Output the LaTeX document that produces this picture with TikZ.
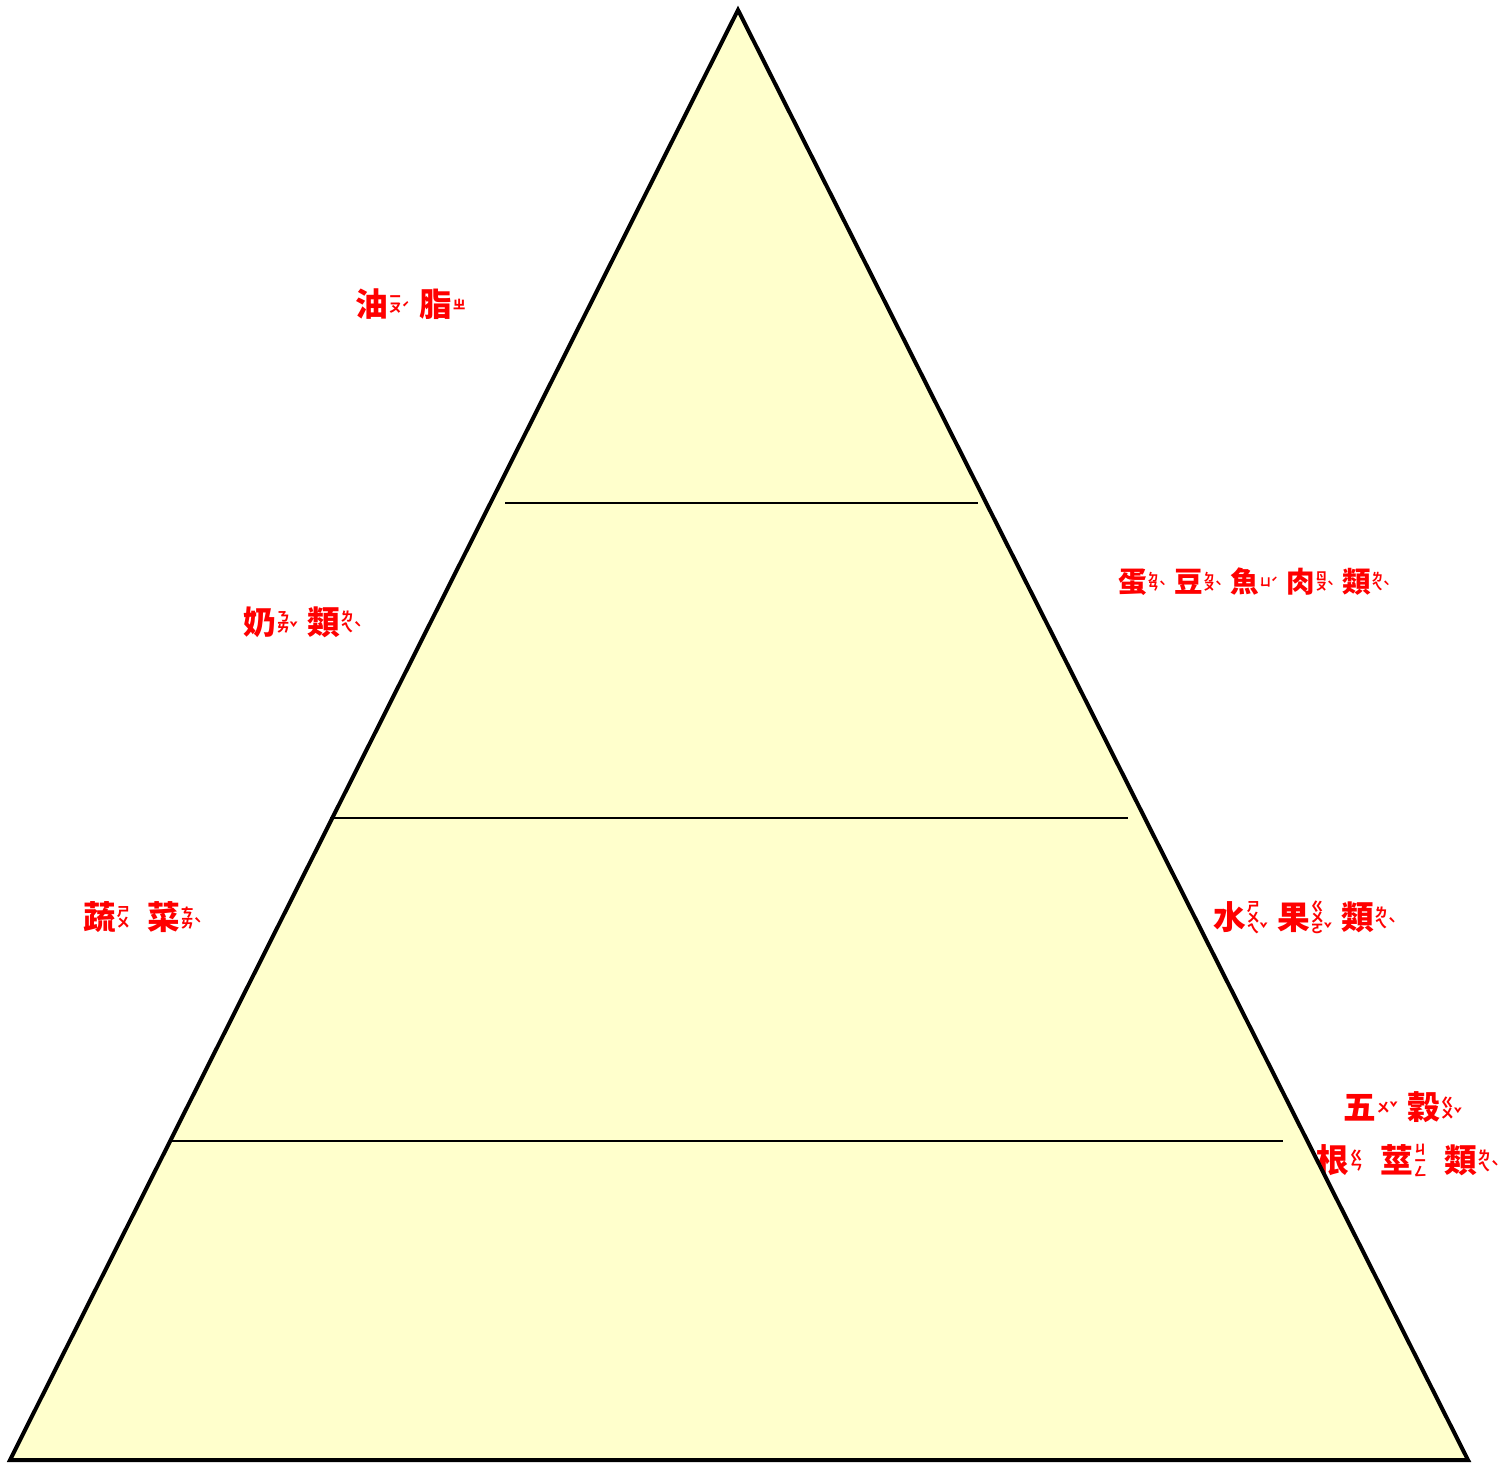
\documentclass[tikz,border=0pt]{standalone}
\usepackage{fontspec}
\usepackage{graphicx}
\newfontfamily\cjk{Noto Sans CJK TC}
\definecolor{pyrfill}{HTML}{FFFFCC}
\newcommand\zyfont{\fontsize{9.6pt}{8.2pt}\selectfont}
\newcommand\tn[1]{\rlap{\kern0.2pt#1}}
\newcommand\zy[2]{#1\makebox[0.96em][l]{\kern0.03em\raisebox{0.11em}{$\vcenter{\zyfont\lineskiplimit=-20pt\lineskip=0pt\halign{\hfil##\hfil\cr#2\crcr}}$}}}
\tikzset{
  lbl/.style={inner sep=0pt, anchor=base west, text=red, font=\cjk\bfseries\fontsize{24.5pt}{28pt}\selectfont},
  edge/.style={line width=3pt, draw=black, fill=pyrfill, line join=miter},
  tier/.style={line width=1.9pt, draw=black}
}
\begin{document}
\begin{tikzpicture}[x=0.75pt, y=-0.75pt]
\useasboundingbox (0,0) rectangle (1503,1463);
% labels
\node[lbl] (fat) at (355,316.5) {\zy{油}{ㄧ\cr ㄡ\tn{ˊ}}\zy{脂}{ㄓ}};
\node[lbl] (milk) at (243,634) {\zy{奶}{ㄋ\cr ㄞ\tn{ˇ}}\zy{類}{ㄌ\cr ㄟ\tn{ˋ}}};
\node[lbl] (meat) at (1118,592) {\scalebox{0.875}{\zy{蛋}{ㄉ\cr ㄢ\tn{ˋ}}\zy{豆}{ㄉ\cr ㄡ\tn{ˋ}}\zy{魚}{ㄩ\tn{ˊ}}\zy{肉}{ㄖ\cr ㄡ\tn{ˋ}}\zy{類}{ㄌ\cr ㄟ\tn{ˋ}}}};
\node[lbl] (veg) at (83,929.5) {\zy{蔬}{ㄕ\cr ㄨ}\zy{菜}{ㄘ\cr ㄞ\tn{ˋ}}};
\node[lbl] (fruit) at (1213,929.5) {\zy{水}{ㄕ\cr ㄨ\cr ㄟ\tn{ˇ}}\zy{果}{ㄍ\cr ㄨ\cr ㄛ\tn{ˇ}}\zy{類}{ㄌ\cr ㄟ\tn{ˋ}}};
\node[lbl] (grain) at (1343,1119.5) {\zy{五}{ㄨ\tn{ˇ}}\zy{穀}{ㄍ\cr ㄨ\tn{ˇ}}};
\node[lbl] (root) at (1316,1172.5) {\zy{根}{ㄍ\cr ㄣ}\zy{莖}{ㄐ\cr ㄧ\cr ㄥ}\zy{類}{ㄌ\cr ㄟ\tn{ˋ}}};
% pyramid
\coordinate (apex) at (738,10);
\coordinate (bl) at (10,1460);
\coordinate (br) at (1468,1460);
\draw[edge] (apex) -- (bl) -- (br) -- cycle;
\coordinate (t1l) at (505,503);
\coordinate (t1r) at (978,503);
\coordinate (t2l) at (330,818);
\coordinate (t2r) at (1128,818);
\coordinate (t3l) at (172,1141);
\coordinate (t3r) at (1283,1141);
\draw[tier] (t1l) -- (t1r);
\draw[tier] (t2l) -- (t2r);
\draw[tier] (t3l) -- (t3r);
\end{tikzpicture}
\end{document}
